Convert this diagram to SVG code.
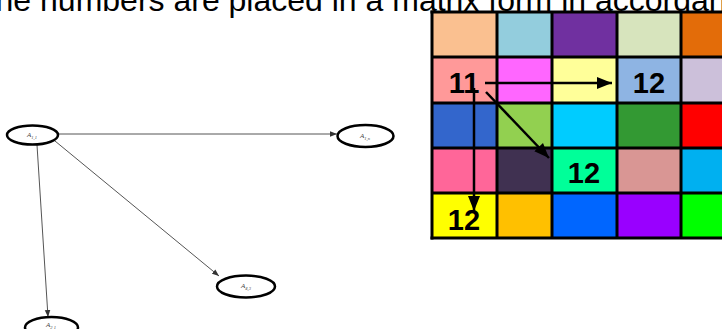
<svg xmlns="http://www.w3.org/2000/svg" width="722" height="329" viewBox="0 0 722 329">
  <style>
    .title { font-family: "Liberation Sans", Arial, sans-serif; font-size: 32px; fill: #000; }
    .node ellipse { fill: #fff; stroke: #000; stroke-width: 2.5; }
    .node text { font-family: "Liberation Serif", "Times New Roman", serif; font-style: italic; font-size: 7px; fill: #444; text-anchor: middle; }
    .node text tspan.sub { font-size: 4.5px; }
    .edge { stroke: #555; stroke-width: 1; fill: none; marker-end: url(#small-arrow); }
    .grid-line { stroke: #000; stroke-width: 3; }
    .num { font-family: "Liberation Sans", Arial, sans-serif; font-weight: bold; font-size: 29px; fill: #000; text-anchor: middle; }
    .path-arrow { stroke: #000; stroke-width: 2.5; fill: none; marker-end: url(#big-arrow); }
  </style>
  <defs>
    <marker id="small-arrow" viewBox="0 0 10 10" refX="10" refY="5" markerWidth="7" markerHeight="7" markerUnits="userSpaceOnUse" orient="auto">
      <path d="M0,1 L10,5 L0,9 z" fill="#333"/>
    </marker>
    <marker id="big-arrow" viewBox="0 0 10 10" refX="10" refY="5" markerWidth="15" markerHeight="15" markerUnits="userSpaceOnUse" orient="auto">
      <path d="M0,1 L10,5 L0,9 z" fill="#000"/>
    </marker>
  </defs>

  <rect width="722" height="329" fill="#fff"/>

  <!-- heading, running off the top edge -->
  <text class="title" x="-24" y="11">The numbers are placed in a matrix form in accordance</text>

  <!-- left: graph of entries -->
  <g id="connectors">
    <line class="edge" x1="58" y1="134" x2="337" y2="134"/>
    <line class="edge" x1="55" y1="141" x2="219" y2="276"/>
    <line class="edge" x1="37" y1="145" x2="48" y2="317"/>
  </g>
  <g id="node-a11" class="node">
    <ellipse cx="32.5" cy="135" rx="25.5" ry="9.5"/>
    <text x="32" y="137">A<tspan class="sub" dy="1.5">1,1</tspan></text>
  </g>
  <g id="node-a1n" class="node">
    <ellipse cx="365.5" cy="136" rx="28" ry="11"/>
    <text x="365" y="138">A<tspan class="sub" dy="1.5">1,n</tspan></text>
  </g>
  <g id="node-a43" class="node">
    <ellipse cx="246" cy="286.5" rx="29" ry="11"/>
    <text x="246" y="288">A<tspan class="sub" dy="1.5">4,3</tspan></text>
  </g>
  <g id="node-a21" class="node">
    <ellipse cx="51.5" cy="327.5" rx="26.5" ry="10.5"/>
    <text x="51" y="327">A<tspan class="sub" dy="1.5">2,1</tspan></text>
  </g>

  <!-- right: coloured matrix -->
  <g id="matrix">
    <!-- row 1 -->
    <rect x="432" y="12" width="65" height="45" fill="#FAC090"/>
    <rect x="497" y="12" width="55" height="45" fill="#93CDDD"/>
    <rect x="552" y="12" width="65" height="45" fill="#7030A0"/>
    <rect x="617" y="12" width="64" height="45" fill="#D7E4BD"/>
    <rect x="681" y="12" width="45" height="45" fill="#E36C09"/>
    <!-- row 2 -->
    <rect x="432" y="57" width="65" height="46" fill="#FF9999"/>
    <rect x="497" y="57" width="55" height="46" fill="#FF66FF"/>
    <rect x="552" y="57" width="65" height="46" fill="#FFFF99"/>
    <rect x="617" y="57" width="64" height="46" fill="#8EB4E3"/>
    <rect x="681" y="57" width="45" height="46" fill="#CCC0DA"/>
    <!-- row 3 -->
    <rect x="432" y="103" width="65" height="45" fill="#3366CC"/>
    <rect x="497" y="103" width="55" height="45" fill="#92D050"/>
    <rect x="552" y="103" width="65" height="45" fill="#00CCFF"/>
    <rect x="617" y="103" width="64" height="45" fill="#339933"/>
    <rect x="681" y="103" width="45" height="45" fill="#FF0000"/>
    <!-- row 4 -->
    <rect x="432" y="148" width="65" height="45" fill="#FF6699"/>
    <rect x="497" y="148" width="55" height="45" fill="#403151"/>
    <rect x="552" y="148" width="65" height="45" fill="#00FF99"/>
    <rect x="617" y="148" width="64" height="45" fill="#D99694"/>
    <rect x="681" y="148" width="45" height="45" fill="#00B0F0"/>
    <!-- row 5 -->
    <rect x="432" y="193" width="65" height="45" fill="#FFFF00"/>
    <rect x="497" y="193" width="55" height="45" fill="#FFC000"/>
    <rect x="552" y="193" width="65" height="45" fill="#0066FF"/>
    <rect x="617" y="193" width="64" height="45" fill="#9900FF"/>
    <rect x="681" y="193" width="45" height="45" fill="#00FF00"/>

    <!-- grid lines -->
    <line class="grid-line" x1="432" y1="10.5" x2="432" y2="239.5"/>
    <line class="grid-line" x1="497" y1="12" x2="497" y2="238"/>
    <line class="grid-line" x1="552" y1="12" x2="552" y2="238"/>
    <line class="grid-line" x1="617" y1="12" x2="617" y2="238"/>
    <line class="grid-line" x1="681" y1="12" x2="681" y2="238"/>
    <line class="grid-line" x1="430.5" y1="12" x2="722" y2="12"/>
    <line class="grid-line" x1="432" y1="57" x2="722" y2="57"/>
    <line class="grid-line" x1="432" y1="103" x2="722" y2="103"/>
    <line class="grid-line" x1="432" y1="148" x2="722" y2="148"/>
    <line class="grid-line" x1="432" y1="193" x2="722" y2="193"/>
    <line class="grid-line" x1="430.5" y1="238" x2="722" y2="238"/>

    <!-- entries -->
    <text class="num" x="464" y="93">11</text>
    <text class="num" x="649" y="93">12</text>
    <text class="num" x="584" y="183">12</text>
    <text class="num" x="464" y="230">12</text>

    <!-- moves from 11 -->
    <line class="path-arrow" x1="485" y1="83" x2="612" y2="83"/>
    <line class="path-arrow" x1="474" y1="88" x2="474" y2="211"/>
    <line class="path-arrow" x1="486" y1="92" x2="549" y2="158"/>
  </g>
</svg>
